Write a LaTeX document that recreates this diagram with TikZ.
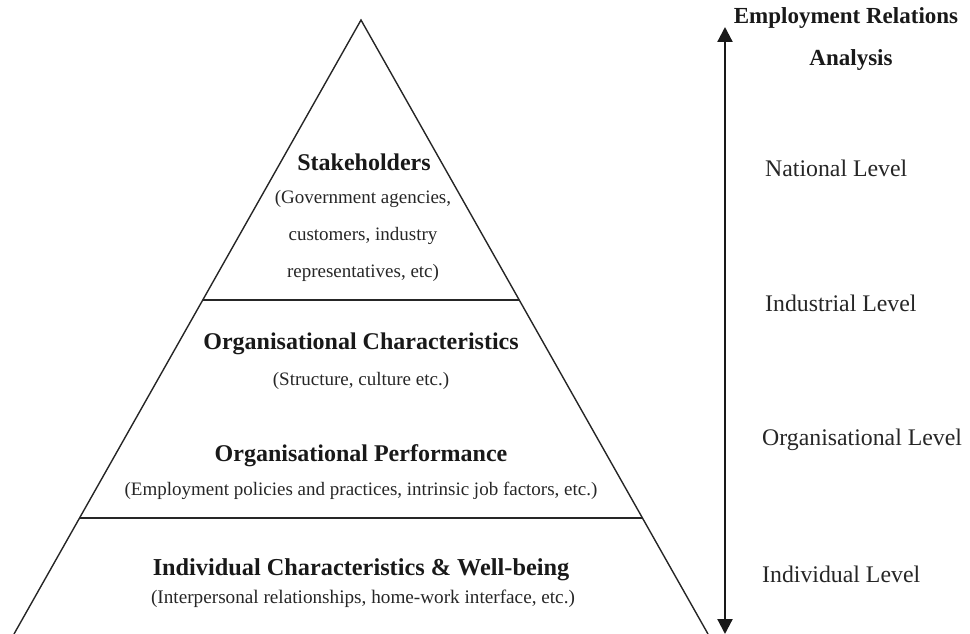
\documentclass[tikz,border=0pt]{standalone}
\usepackage{fontspec}
\setmainfont{Liberation Serif}
\usetikzlibrary{arrows.meta,calc}
\begin{document}
\begin{tikzpicture}[x=1pt,y=-1pt,
  edge/.style={line width=1.4pt, draw=black!85},
  title/.style={font=\fontsize{24}{28}\selectfont\bfseries, inner sep=0pt, text=black!90},
  sub/.style={font=\fontsize{19}{22}\selectfont, inner sep=0pt, text=black!85},
  level/.style={font=\fontsize{23.8}{26}\selectfont, inner sep=0pt, anchor=west, text=black!85},
  axis/.style={line width=2.2pt, draw=black!90, {Triangle[length=15pt,width=15pt]}-{Triangle[length=15pt,width=15pt]}}]
\useasboundingbox (0,0) rectangle (970,634);
% pyramid
\coordinate (apex) at (361,20);
\coordinate (bl) at (14,634);
\coordinate (br) at (708,634);
\draw[edge] (bl) -- (apex) -- (br);
\coordinate (l1) at ($(apex)!0.456!(bl)$);
\coordinate (r1) at ($(apex)!0.456!(br)$);
\coordinate (l2) at ($(apex)!0.811!(bl)$);
\coordinate (r2) at ($(apex)!0.811!(br)$);
\draw[edge] (l1) -- (r1);
\draw[edge] (l2) -- (r2);
% texts in pyramid
\node[title] (stk) at (364,162) {Stakeholders};
\node[sub] (stk1) at (363,199) {(Government agencies,};
\node[sub] (stk2) at (363,236) {customers, industry};
\node[sub] (stk3) at (363,273) {representatives, etc)};
\node[title] (oc) at (361,344) {Organisational Characteristics};
\node[sub] (oc1) at (361,381) {(Structure, culture etc.)};
\node[title] (op) at (361,456) {Organisational Performance};
\node[sub] (op1) at (361,491) {(Employment policies and practices, intrinsic job factors, etc.)};
\node[title,font=\fontsize{24.3}{28}\selectfont\bfseries] (ic) at (361,570) {Individual Characteristics \& Well-being};
\node[sub,font=\fontsize{19.2}{22}\selectfont] (ic1) at (363,599) {(Interpersonal relationships, home-work interface, etc.)};
% axis
\coordinate (atop) at (725,27);
\coordinate (abot) at (725,634);
\draw[axis] (atop) -- (abot);
\node[title,font=\fontsize{23}{27}\selectfont\bfseries] (era1) at (846,18) {Employment Relations};
\node[title,font=\fontsize{23}{27}\selectfont\bfseries] (era2) at (851,60) {Analysis};
\node[level] (nat) at (765,168) {National Level};
\node[level] (ind) at (765,303) {Industrial Level};
\node[level] (org) at (762,440) {Organisational Level};
\node[level] (indl) at (762,574) {Individual Level};
\end{tikzpicture}
\end{document}
